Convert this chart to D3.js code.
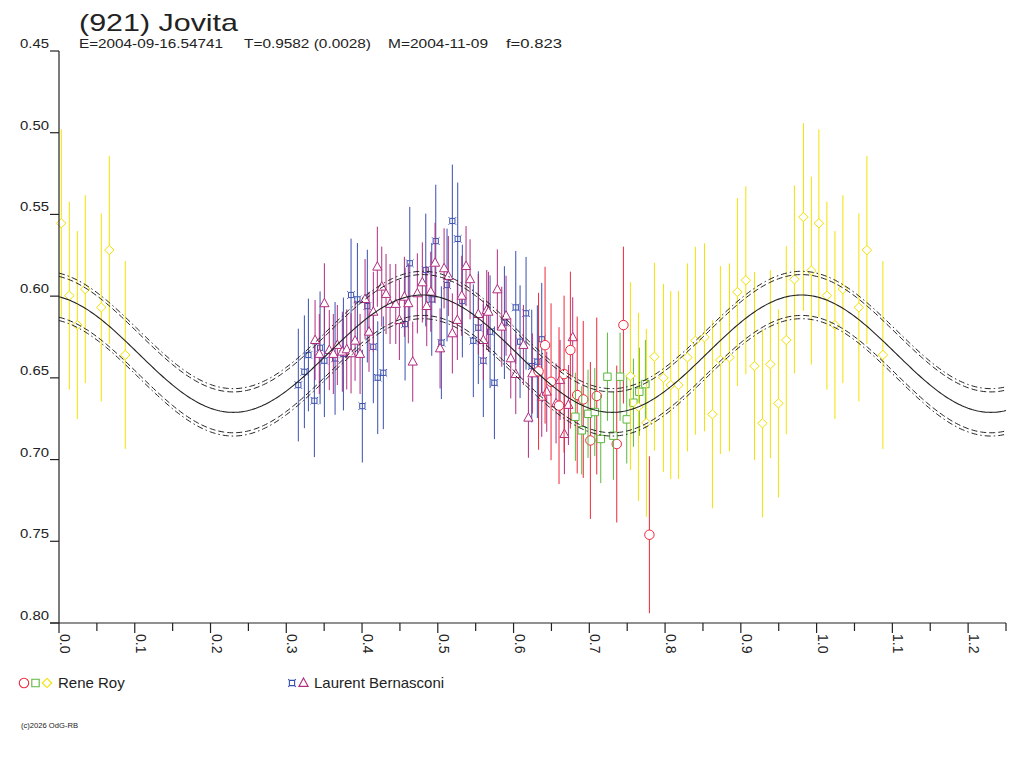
<!DOCTYPE html>
<html>
  <head>
    <style>
      body { margin: 0; background: #fff; }
      text { font-family: "Liberation Sans", Arial, sans-serif; fill: #222; }
    </style>
  </head>

  <body>

    <svg class="surface" width="1024" height="768"></svg>

    <script src="https://cdn.jsdelivr.net/npm/d3@7/dist/d3.min.js" charset="utf-8"></script>
    <script>

      const title = '(921) Jovita'
      const subtitleParts = ['E=2004-09-16.54741', 'T=0.9582 (0.0028)', 'M=2004-11-09', 'f=0.823']

      const yTickValues = [0.45, 0.50, 0.55, 0.60, 0.65, 0.70, 0.75, 0.80]
      const xMajorTicks = [0.0, 0.1, 0.2, 0.3, 0.4, 0.5, 0.6, 0.7, 0.8, 0.9, 1.0, 1.1, 1.2]

      // fit: mean + amp * cos(2*pi*harm*(phase - phase0))
      const fitMean = 0.6352
      const fitAmp = 0.0359
      const fitHarm = 2
      const fitPhase0 = 0.23
      const envelopeOffsets = [-0.0145, -0.0125, 0.0125, 0.0145]

      // [phase, mag]
      const royCircles = [
        [0.633, 0.646], [0.6416, 0.630], [0.6495, 0.6524], [0.660, 0.667], [0.6667, 0.6477],
        [0.675, 0.633], [0.684, 0.6605], [0.692, 0.6632], [0.7014, 0.6883], [0.7098, 0.6611],
        [0.7362, 0.6905], [0.745, 0.6177], [0.7793, 0.746]
      ]
      const roySquares = [
        [0.6816, 0.6738], [0.690, 0.6821], [0.6983, 0.672], [0.7072, 0.6709], [0.7151, 0.6874],
        [0.7239, 0.6493], [0.7318, 0.6854], [0.7406, 0.6493], [0.7494, 0.6754], [0.7582, 0.6652],
        [0.766, 0.6585], [0.774, 0.6538]
      ]
      const royDiamonds = [
        [0.003, 0.5554], [0.0136, 0.5997], [0.0242, 0.6177], [0.0347, 0.5957], [0.0558, 0.6069],
        [0.0664, 0.5718], [0.0875, 0.636],
        [0.7542, 0.6489], [0.7648, 0.6677], [0.7753, 0.6775], [0.7859, 0.6371],
        [0.7978, 0.650], [0.8075, 0.6544], [0.8176, 0.6544], [0.8295, 0.6375], [0.840, 0.6273],
        [0.852, 0.6252], [0.8625, 0.6723], [0.873, 0.6391], [0.885, 0.6375], [0.8955, 0.5975],
        [0.9066, 0.5903], [0.918, 0.6428], [0.9285, 0.6778], [0.939, 0.6417], [0.9496, 0.6656],
        [0.960, 0.6269], [0.9707, 0.5897], [0.9826, 0.5516], [0.9931, 0.5844]
      ]
      const bernasconiStars = [
        [0.3159, 0.6544], [0.3239, 0.6463], [0.3292, 0.6360], [0.3371, 0.6640], [0.3446, 0.6316],
        [0.3503, 0.6395], [0.3644, 0.6381], [0.3754, 0.6354], [0.3855, 0.5993], [0.3939, 0.6020],
        [0.4004, 0.6673], [0.4070, 0.6061], [0.4149, 0.6310], [0.4207, 0.6499], [0.4281, 0.6469],
        [0.4568, 0.6171], [0.4630, 0.5799], [0.4841, 0.5840], [0.4920, 0.6020], [0.4973, 0.5663],
        [0.5047, 0.6285], [0.5122, 0.5932], [0.5192, 0.5540], [0.5263, 0.5650], [0.5324, 0.6030],
        [0.5469, 0.6273], [0.5535, 0.6193], [0.5601, 0.6395], [0.5690, 0.6218], [0.5747, 0.6530],
        [0.5879, 0.6162], [0.6029, 0.6069], [0.6086, 0.6279], [0.6165, 0.6105], [0.6240, 0.6428],
        [0.6314, 0.6401], [0.6372, 0.6264]
      ]
      const bernasconiTriangles = [
        [0.3380, 0.6269], [0.3436, 0.6354], [0.3503, 0.6044], [0.3568, 0.6330], [0.3621, 0.6354],
        [0.3674, 0.6299], [0.3740, 0.6340], [0.3798, 0.6326], [0.3855, 0.6350], [0.3908, 0.6273],
        [0.3974, 0.6354], [0.4040, 0.6018], [0.4092, 0.6218], [0.4149, 0.6096], [0.4202, 0.5820],
        [0.4260, 0.5942], [0.4317, 0.5987], [0.4370, 0.6048], [0.4445, 0.6048], [0.4493, 0.6146],
        [0.4559, 0.6004], [0.4611, 0.6044], [0.4669, 0.6401], [0.4730, 0.5983], [0.4796, 0.5916],
        [0.4854, 0.6061], [0.4907, 0.5973], [0.4964, 0.5796], [0.5030, 0.6320], [0.5083, 0.5830],
        [0.5139, 0.5877], [0.5192, 0.6228], [0.5258, 0.6146], [0.5316, 0.5998], [0.5373, 0.5816],
        [0.5426, 0.5897], [0.5535, 0.6110], [0.5601, 0.6269], [0.5646, 0.6085], [0.5668, 0.6096],
        [0.5786, 0.5959], [0.5844, 0.6187], [0.5901, 0.6120], [0.5963, 0.6381], [0.6029, 0.6477],
        [0.6130, 0.6299], [0.6196, 0.6744], [0.6248, 0.6473], [0.6372, 0.6616], [0.6438, 0.6585],
        [0.6561, 0.6656], [0.6614, 0.6513], [0.6671, 0.6844], [0.6724, 0.6666], [0.6781, 0.6252]
      ]

      const series = [
        { name: 'stars', data: bernasconiStars, err: 0.0345, color: '#3a50b0', marker: 'star' },
        { name: 'triangles', data: bernasconiTriangles, err: 0.0245, color: '#b02c80', marker: 'triangle' },
        { name: 'circles', data: royCircles, err: 0.048, color: '#f0283a', marker: 'circle' },
        { name: 'squares', data: roySquares, err: 0.027, color: '#5cb83c', marker: 'square' },
        { name: 'diamonds', data: royDiamonds, err: 0.0575, color: '#f2e200', marker: 'diamond' }
      ]

      const legendGroups = [
        { label: 'Rene Roy', x: 18, textX: 58, markers: [['circle', '#f0283a'], ['square', '#5cb83c'], ['diamond', '#f2e200']] },
        { label: 'Laurent Bernasconi', x: 286, textX: 314, markers: [['star', '#3a50b0'], ['triangle', '#b02c80']] }
      ]

      // ---- scales ----
      const x = d3.scaleLinear().domain([0, 1.25]).range([59, 1006])
      const y = d3.scaleLinear().domain([0.45, 0.80]).range([51, 623])

      const svg = d3.select('.surface')

      function markerPath(type) {
        if (type === 'circle') return d3.symbol(d3.symbolCircle, 70)()
        if (type === 'square') return 'M-3.7,-3.7H3.7V3.7H-3.7Z'
        if (type === 'diamond') return 'M0,-4.6L4.8,0L0,4.6L-4.8,0Z'
        if (type === 'triangle') return 'M0,-5L4.6,3.4H-4.6Z'
        // the little "¤" like marker
        return 'M-2.6,-2.6H2.6V2.6H-2.6Z M-3.8,-3.8L-2.6,-2.6 M3.8,-3.8L2.6,-2.6 M-3.8,3.8L-2.6,2.6 M3.8,3.8L2.6,2.6'
      }

      // ---- data points (phases below 0.25 are repeated after 1.0) ----
      series.forEach(s => {
        const pts = []
        s.data.forEach(d => {
          pts.push(d)
          if (d[0] + 1 <= 1.25) pts.push([d[0] + 1, d[1]])
        })
        const g = svg.append('g').attr('class', s.name)
        g.selectAll('line')
          .data(pts)
          .enter().append('line')
          .attr('x1', d => x(d[0])).attr('x2', d => x(d[0]))
          .attr('y1', d => y(d[1] - s.err)).attr('y2', d => y(d[1] + s.err))
          .attr('stroke', s.color)
          .attr('stroke-width', 1)
        g.selectAll('path')
          .data(pts)
          .enter().append('path')
          .attr('transform', d => `translate(${x(d[0])},${y(d[1])})`)
          .attr('d', markerPath(s.marker))
          .attr('fill', s.marker === 'star' ? 'none' : '#fff')
          .attr('stroke', s.color)
          .attr('stroke-width', 1)
      })

      // ---- fitted curve and its envelope ----
      const phases = d3.range(0, 1.2501, 0.0025)
      const fit = p => fitMean + fitAmp * Math.cos(2 * Math.PI * fitHarm * (p - fitPhase0))
      const line = d3.line().x(d => x(d[0])).y(d => y(d[1]))

      envelopeOffsets.forEach(off => {
        svg.append('path')
          .attr('d', line(phases.map(p => [p, fit(p) + off])))
          .attr('fill', 'none')
          .attr('stroke', '#222')
          .attr('stroke-width', 1)
          .attr('stroke-dasharray', Math.abs(off) > 0.013 ? '6,3,1.5,3' : '6,3')
      })
      svg.append('path')
        .attr('d', line(phases.map(p => [p, fit(p)])))
        .attr('fill', 'none')
        .attr('stroke', '#222')
        .attr('stroke-width', 1.1)

      // ---- axes ----
      const axisG = svg.append('g').attr('stroke', '#222').attr('stroke-width', 1.2)
      axisG.append('line').attr('x1', x(0)).attr('x2', x(0)).attr('y1', y(0.45)).attr('y2', y(0.80))
      axisG.append('line').attr('x1', 50).attr('x2', x(1.25)).attr('y1', y(0.80)).attr('y2', y(0.80))

      axisG.selectAll('.ytick')
        .data(yTickValues)
        .enter().append('line')
        .attr('x1', 50).attr('x2', x(0))
        .attr('y1', d => y(d)).attr('y2', d => y(d))

      const xTickValues = d3.range(0, 26).map(i => i * 0.05)
      axisG.selectAll('.xtick')
        .data(xTickValues)
        .enter().append('line')
        .attr('x1', d => x(d)).attr('x2', d => x(d))
        .attr('y1', y(0.80))
        .attr('y2', (d, i) => y(0.80) + (i % 2 === 0 ? 10 : 8))

      svg.selectAll('.ylabel')
        .data(yTickValues)
        .enter().append('text')
        .attr('x', 49).attr('y', d => y(d) - 3)
        .attr('text-anchor', 'end')
        .attr('font-size', 13)
        .attr('textLength', 29)
        .attr('lengthAdjust', 'spacingAndGlyphs')
        .text(d => d.toFixed(2))

      svg.selectAll('.xlabel')
        .data(xMajorTicks)
        .enter().append('text')
        .attr('transform', d => `translate(${x(d) + 1},${y(0.80) + 11}) rotate(90)`)
        .attr('font-size', 14)
        .text(d => d.toFixed(1))

      // ---- titles ----
      svg.append('text')
        .attr('x', 79).attr('y', 31)
        .attr('font-size', 24)
        .attr('textLength', 159)
        .attr('lengthAdjust', 'spacingAndGlyphs')
        .text(title)

      const subX = [79, 244, 388, 506]
      const subW = [144, 127, 100, 56]
      subtitleParts.forEach((t, i) => {
        svg.append('text')
          .attr('x', subX[i]).attr('y', 48)
          .attr('font-size', 12.5)
          .attr('textLength', subW[i])
          .attr('lengthAdjust', 'spacingAndGlyphs')
          .text(t)
      })

      // ---- legend ----
      legendGroups.forEach(gr => {
        gr.markers.forEach((m, i) => {
          svg.append('path')
            .attr('transform', `translate(${gr.x + 6 + i * 11.5},683)`)
            .attr('d', markerPath(m[0]))
            .attr('fill', 'none')
            .attr('stroke', m[1])
            .attr('stroke-width', 1.1)
        })
        svg.append('text')
          .attr('x', gr.textX)
          .attr('y', 688)
          .attr('font-size', 15)
          .text(gr.label)
      })

      svg.append('text')
        .attr('x', 21).attr('y', 728)
        .attr('font-size', 7)
        .attr('textLength', 57)
        .attr('lengthAdjust', 'spacingAndGlyphs')
        .text('(c)2026 OdG-RB')

    </script>
  </body>

</html>
